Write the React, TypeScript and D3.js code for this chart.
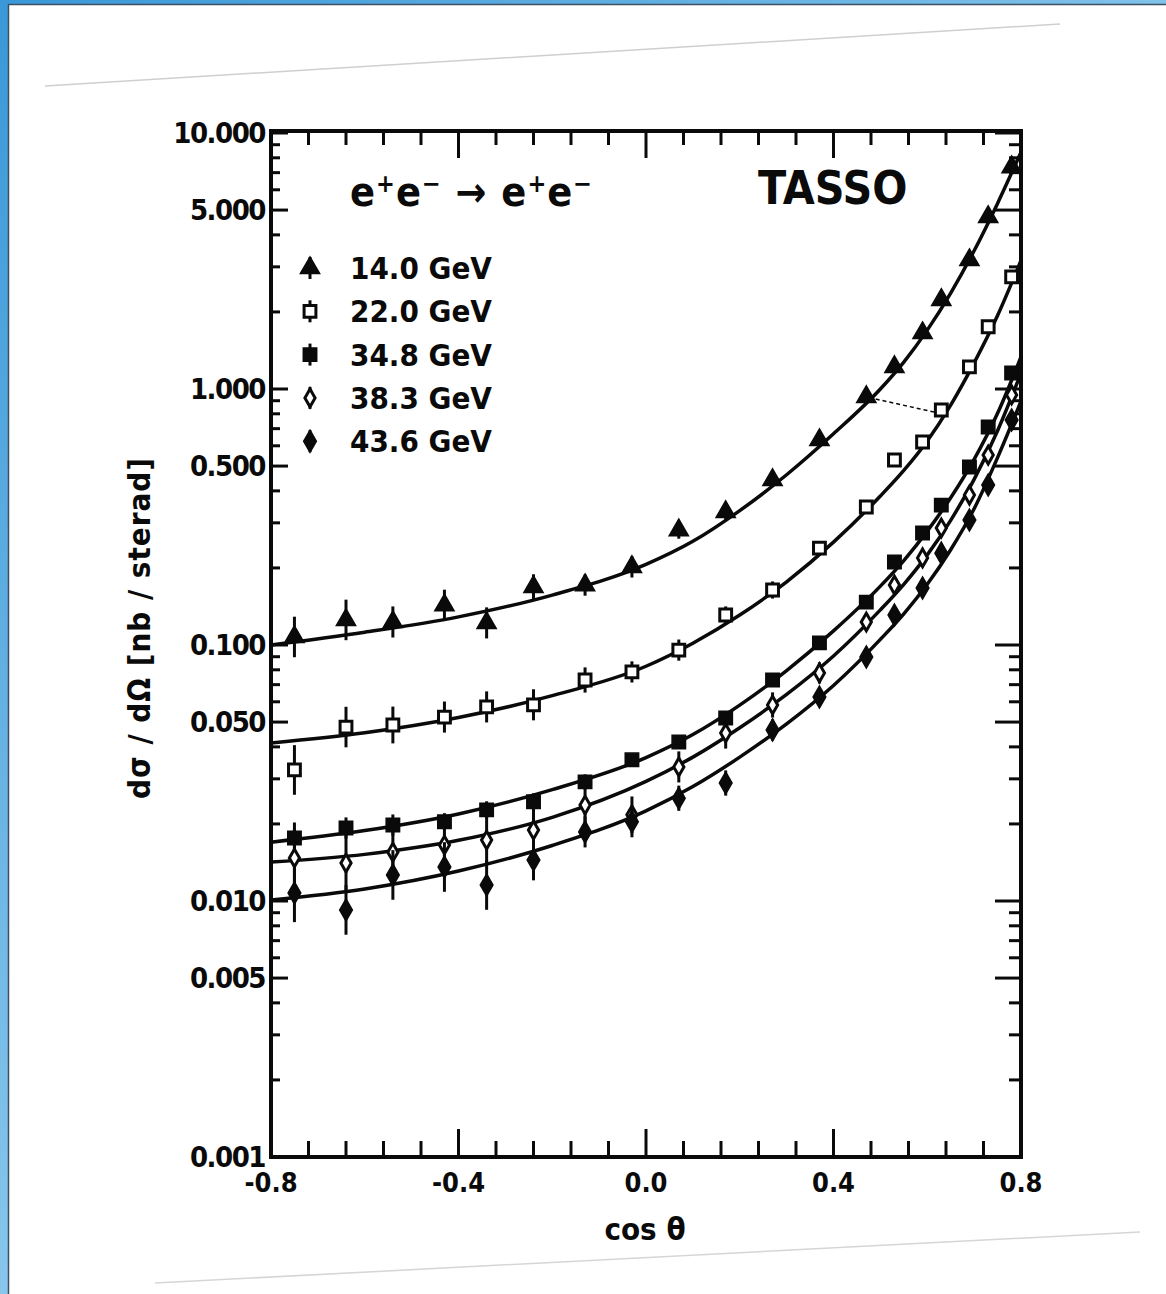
import React, { useEffect } from 'react';
import * as d3 from 'd3';

const W = 1166;
const H = 1294;

// measured cos(theta) bins of the data points
const cosBins = [-0.75, -0.64, -0.54, -0.43, -0.34, -0.24, -0.13, -0.03, 0.07, 0.17, 0.27, 0.37, 0.47, 0.53, 0.59, 0.63, 0.69, 0.73, 0.78];

// dsigma/dOmega [nb/sterad]
const pts14 = [0.1075, 0.1253, 0.123, 0.143, 0.122, 0.1686, 0.1714, 0.2018, 0.281, 0.331, 0.4416, 0.632, 0.931, 1.22, 1.655, 2.23, 3.19, 4.7, 7.36];
const pts22 = [0.0325, 0.0478, 0.0487, 0.0523, 0.0573, 0.0584, 0.073, 0.0785, 0.0955, 0.131, 0.164, 0.239, 0.346, 0.528, 0.621, 0.828, 1.22, 1.75, 2.74];
const pts34 = [0.01762, 0.01928, 0.0198, 0.0204, 0.0227, 0.0244, 0.0292, 0.0356, 0.0418, 0.0519, 0.073, 0.1019, 0.147, 0.211, 0.274, 0.352, 0.496, 0.711, 1.155];
const pts38 = [0.01472, 0.01406, 0.01552, 0.01655, 0.01729, 0.01893, 0.0237, 0.0217, 0.0334, 0.0453, 0.0583, 0.0778, 0.123, 0.1714, 0.2188, 0.2865, 0.385, 0.552, 0.948];
const pts43 = [0.01075, 0.00923, 0.01264, 0.01358, 0.01155, 0.01445, 0.01862, 0.0204, 0.0252, 0.0289, 0.0466, 0.0626, 0.0898, 0.1309, 0.1671, 0.2285, 0.3076, 0.4217, 0.757];

// relative error bars
const err14 = [0.2, 0.2, 0.15, 0.15, 0.15, 0.12, 0.1, 0.1, 0.08, 0.08, 0.06, 0.06, 0.05, 0.05, 0.05, 0.04, 0.04, 0.04, 0.04];
const err22 = [0.25, 0.2, 0.18, 0.15, 0.15, 0.15, 0.12, 0.1, 0.1, 0.08, 0.08, 0.06, 0.06, 0.05, 0.05, 0.05, 0.04, 0.04, 0.04];
const err34 = [0.15, 0.1, 0.1, 0.08, 0.08, 0.08, 0.07, 0.06, 0.05, 0.05, 0.04, 0.04, 0.04, 0.03, 0.03, 0.03, 0.03, 0.03, 0.03];
const err38 = [0.3, 0.3, 0.25, 0.25, 0.25, 0.2, 0.2, 0.18, 0.15, 0.15, 0.12, 0.1, 0.08, 0.08, 0.06, 0.06, 0.05, 0.05, 0.05];
const err43 = [0.3, 0.25, 0.25, 0.25, 0.25, 0.2, 0.15, 0.15, 0.12, 0.12, 0.1, 0.08, 0.06, 0.06, 0.05, 0.05, 0.05, 0.05, 0.05];

// QED curves, read at these cos(theta)
const curveCos = [-0.8, -0.6, -0.4, -0.2, 0, 0.1, 0.2, 0.3, 0.4, 0.5, 0.55, 0.6, 0.65, 0.7, 0.75, 0.8];
const fit14 = [0.1, 0.1122, 0.1288, 0.1567, 0.2065, 0.2541, 0.335, 0.4624, 0.6683, 1.0, 1.274, 1.698, 2.371, 3.467, 5.309, 8.414];
const fit22 = [0.0414, 0.0454, 0.0521, 0.0634, 0.0826, 0.1016, 0.1309, 0.1766, 0.2523, 0.3819, 0.4808, 0.6266, 0.865, 1.2647, 1.9364, 3.177];
const fit34 = [0.01698, 0.01884, 0.02188, 0.02723, 0.03631, 0.04467, 0.05821, 0.07943, 0.1135, 0.1698, 0.2138, 0.2786, 0.3758, 0.5309, 0.8035, 1.3335];
const fit38 = [0.01419, 0.01521, 0.01726, 0.02123, 0.02931, 0.03648, 0.04753, 0.06412, 0.09057, 0.1371, 0.1726, 0.2249, 0.3069, 0.4436, 0.6871, 1.153];
const fit43 = [0.01009, 0.01114, 0.01309, 0.01648, 0.02249, 0.02799, 0.03648, 0.0492, 0.0695, 0.1052, 0.1324, 0.1726, 0.2355, 0.3404, 0.5395, 0.8954];

const energies = ['14.0 GeV', '22.0 GeV', '34.8 GeV', '38.3 GeV', '43.6 GeV'];

const yTickValues = [10, 5, 1, 0.5, 0.1, 0.05, 0.01, 0.005, 0.001];
const yTickLabels = ['10.000', '5.000', '1.000', '0.500', '0.100', '0.050', '0.010', '0.005', '0.001'];
const xTickValues = [-0.8, -0.4, 0, 0.4, 0.8];
const xTickLabels = ['-0.8', '-0.4', '0.0', '0.4', '0.8'];

const FONT = "'Liberation Sans Narrow', 'DejaVu Sans Condensed', 'DejaVu Sans', sans-serif";
const INK = '#0a0a0a';

const series = [
  { pts: pts14, err: err14, fit: fit14, sym: d3.symbolTriangle, size: 160, open: false },
  { pts: pts22, err: err22, fit: fit22, sym: d3.symbolSquare, size: 140, open: true },
  { pts: pts34, err: err34, fit: fit34, sym: d3.symbolSquare, size: 180, open: false },
  { pts: pts38, err: err38, fit: fit38, sym: d3.symbolDiamond, size: 90, open: true },
  { pts: pts43, err: err43, fit: fit43, sym: d3.symbolDiamond, size: 140, open: false },
];

export default function App() {
  useEffect(() => {
    document.body.style.margin = '0';
  }, []);

  const left = 271, right = 1021, top = 133, bottom = 1157;
  const x = d3.scaleLinear().domain([-0.8, 0.8]).range([left, right]);
  const y = d3.scaleLog().domain([0.001, 10]).range([bottom, top]);

  const line = d3.line<number>()
    .x((_, i) => x(curveCos[i]))
    .y(d => y(d))
    .curve(d3.curveMonotoneX);

  const minorX = d3.range(-0.8, 0.8001, 0.08);
  const yMinor = y.ticks();
  const isMajorY = (v: number) => yTickValues.some(t => Math.abs(Math.log10(t) - Math.log10(v)) < 1e-6);
  const isMajorX = (v: number) => xTickValues.some(t => Math.abs(t - v) < 1e-6);

  return (
    <svg width={W} height={H} style={{ display: 'block' }} fontFamily={FONT}>
      <defs>
        <linearGradient id="topBand" x1="0" x2="1" y1="0" y2="0">
          <stop offset="0%" stopColor="#3a98d8" />
          <stop offset="100%" stopColor="#80c2ea" />
        </linearGradient>
        <linearGradient id="leftBand" x1="0" x2="0" y1="0" y2="1">
          <stop offset="0%" stopColor="#3a98d8" />
          <stop offset="100%" stopColor="#88c6ec" />
        </linearGradient>
      </defs>
      <rect width={W} height={H} fill="#fff" />
      {/* window frame */}
      <rect x={0} y={0} width={W} height={4} fill="url(#topBand)" />
      <rect x={0} y={0} width={8} height={H} fill="url(#leftBand)" />
      <line x1={8} x2={W} y1={4.5} y2={4.5} stroke="#3d4f60" strokeWidth={1.5} />
      <line x1={8.5} x2={8.5} y1={4} y2={H} stroke="#3d4f60" strokeWidth={1.5} />

      {/* scan edge artefacts */}
      <line x1={45} y1={86} x2={1060} y2={24} stroke="#cfcfcf" strokeWidth={1.5} />
      <line x1={155} y1={1283} x2={1140} y2={1232} stroke="#d6d6d6" strokeWidth={1.5} />
      <line x1={862} y1={396} x2={934} y2={412} stroke={INK} strokeWidth={1.5} strokeDasharray="4 3" />

      {/* frame */}
      <rect x={left} y={top - 2} width={right - left} height={bottom - top + 2} fill="none" stroke={INK} strokeWidth={4} />

      {/* x ticks bottom & top */}
      {minorX.map((v, i) => {
        const big = isMajorX(v);
        return (
          <g key={`xt${i}`} stroke={INK} strokeWidth={3}>
            <line x1={x(v)} x2={x(v)} y1={bottom} y2={bottom - (big ? 28 : 16)} />
            <line x1={x(v)} x2={x(v)} y1={top - 2} y2={top - 2 + (big ? 27 : 14)} />
          </g>
        );
      })}
      {xTickValues.map((v, i) => (
        <text key={`xl${i}`} x={x(v)} y={bottom + 35} textAnchor="middle" fontSize={27} fontWeight="bold" fill={INK}>
          {xTickLabels[i]}
        </text>
      ))}

      {/* y ticks left & right */}
      {yMinor.map((v, i) => {
        const big = isMajorY(v);
        return (
          <g key={`yt${i}`} stroke={INK} strokeWidth={3}>
            <line x1={left} x2={left + (big ? 17 : 9)} y1={y(v)} y2={y(v)} />
            <line x1={right} x2={right - (big ? 26 : 12)} y1={y(v)} y2={y(v)} />
          </g>
        );
      })}
      {yTickValues.map((v, i) => (
        <text key={`yl${i}`} x={left - 6} y={y(v) + 10} textAnchor="end" fontSize={29} fontWeight="bold" fill={INK} letterSpacing={-1.5}>
          {yTickLabels[i]}
        </text>
      ))}

      {/* axis titles */}
      <text x={645} y={1240} textAnchor="middle" fontSize={31} fontWeight="bold" fill={INK}>cos θ</text>
      <text transform="translate(150,628) rotate(-90)" textAnchor="middle" fontSize={31} fontWeight="bold" fill={INK} letterSpacing={1}>
        dσ / dΩ  [nb / sterad]
      </text>

      {/* curves */}
      {series.map((s, k) => (
        <path key={`c${k}`} d={line(s.fit) || ''} fill="none" stroke={INK} strokeWidth={3.5} />
      ))}

      {/* data points with error bars */}
      {series.map((s, k) => (
        <g key={`p${k}`}>
          {s.pts.map((v, i) => (
            <g key={i} transform={`translate(${x(cosBins[i])},${y(v)})`}>
              <line x1={0} x2={0} y1={y(v * (1 + s.err[i])) - y(v)} y2={y(v / (1 + s.err[i])) - y(v)} stroke={INK} strokeWidth={3} />
              <path d={d3.symbol().type(s.sym).size(s.size)() || ''} fill={s.open ? '#fff' : INK} stroke={INK} strokeWidth={s.open ? 3 : 1.5} />
            </g>
          ))}
        </g>
      ))}

      {/* titles */}
      <text x={350} y={206} fontSize={41} fontWeight="bold" fill={INK} letterSpacing={1}>
        e<tspan dy={-14} fontSize={25}>+</tspan>
        <tspan dy={14}>e</tspan>
        <tspan dy={-14} fontSize={25}>−</tspan>
        <tspan dy={14}> → e</tspan>
        <tspan dy={-14} fontSize={25}>+</tspan>
        <tspan dy={14}>e</tspan>
        <tspan dy={-14} fontSize={25}>−</tspan>
      </text>
      <text x={758} y={204} fontSize={46} fontWeight="bold" fill={INK}>TASSO</text>

      {/* legend */}
      {energies.map((e, i) => {
        const cy = 268 + i * 43.3;
        const s = series[i];
        return (
          <g key={`lg${i}`}>
            <g transform={`translate(310,${cy})`}>
              <line x1={0} x2={0} y1={-11} y2={11} stroke={INK} strokeWidth={3} />
              <path d={d3.symbol().type(s.sym).size(s.size)() || ''} fill={s.open ? '#fff' : INK} stroke={INK} strokeWidth={s.open ? 3 : 1.5} />
            </g>
            <text x={350} y={cy + 11} fontSize={31} fontWeight="bold" fill={INK}>{e}</text>
          </g>
        );
      })}
    </svg>
  );
}
